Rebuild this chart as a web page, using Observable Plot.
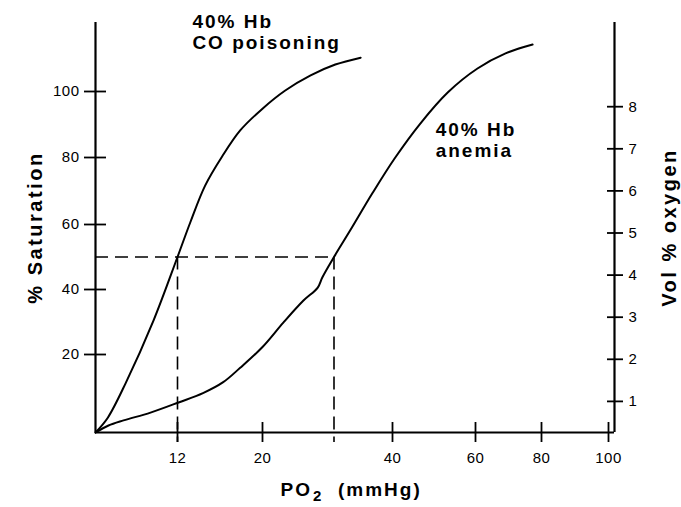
<!DOCTYPE html>
<html><head><meta charset="utf-8">
<script src="https://cdn.jsdelivr.net/npm/d3@7"></script>
<script src="https://cdn.jsdelivr.net/npm/@observablehq/plot@0.6"></script>
<style>
html,body{margin:0;padding:0;background:#fff;}
#chart{position:relative;width:681px;height:507px;}
#chart svg{position:absolute;left:0;top:0;letter-spacing:0.5px;}
#chart g[font-weight="bold"] text{letter-spacing:2px;}
#chart g[font-size="20"] text{letter-spacing:2.5px;}
</style></head><body><div id="chart"></div>
<script>
// ---- data ----
const po2Ticks = [12, 20, 40, 60, 80, 100];          // mmHg
const saturationTicks = [20, 40, 60, 80, 100];       // % saturation
const volTicks = [1, 2, 3, 4, 5, 6, 7, 8];           // vol % oxygen

const coPO2 = [0, 1.8, 4.4, 8.5, 12, 13.2, 14.6, 16.2, 17.9, 20, 23.5, 27.4, 31.2, 35.1];
const coSat = [0, 3.8, 12.6, 30.5, 50, 60.6, 71.6, 80.3, 88.2, 94.8, 100.3, 104.9, 108.2, 110.3];

const anemiaPO2 = [0, 1.9, 4.1, 8.05, 12.1, 14.4, 16.3, 17.9, 20, 23.2, 26.3, 28.5, 29.2, 31, 33.5, 36.9, 40.5, 46.7, 53.3, 60.6, 69.1, 77.3];
const anemiaSat = [0, 1.8, 3.1, 5.1, 7.7, 10.1, 12.9, 16.6, 22.3, 29.8, 36.6, 40.6, 43.7, 50, 58.2, 69.3, 79.7, 90.3, 99.7, 107, 111.6, 114.3];

const p50Sat = 50;
const coP50 = 12;
const anemiaP50 = 31;

const coLabel = "40% Hb\nCO poisoning";
const anemiaLabel = "40% Hb\nanemia";
const yTitle = "% Saturation";
const y2Title = "Vol % oxygen";

// ---- hand-drawn (non-uniform) axis of the original ----
const xDomain = [0, 12, 20, 40, 60, 80, 100, 102];
const xRange  = [95, 177, 262, 392, 475, 541, 608, 614];
const yDomain = [0, 20, 40, 60, 80, 100, 121];
const yRange  = [432, 354, 289, 224, 157, 91, 22];
const volDomain = [0, 10];
const volRange = [443, 22];

const co = coPO2.map((p, i) => ({po2: p, sat: coSat[i]}));
const anemia = anemiaPO2.map((p, i) => ({po2: p, sat: anemiaSat[i]}));
const xMax = xDomain[xDomain.length - 1];
const yMax = yDomain[yDomain.length - 1];

const font = "'Liberation Sans', Arial, Helvetica, sans-serif";
const common = {
  width: 681, height: 507,
  marginLeft: 95, marginRight: 67, marginTop: 22, marginBottom: 75
};

const main = Plot.plot({
  ...common,
  style: {fontFamily: font, fontSize: "15px", color: "black", background: "white"},
  x: {type: "linear", domain: xDomain, range: xRange},
  y: {type: "linear", domain: yDomain, range: yRange},
  marks: [
    Plot.ruleX([0], {y1: 0, y2: yMax, strokeWidth: 2.2}),
    Plot.ruleX([xMax], {y1: 0, y2: yMax, strokeWidth: 2.2}),
    Plot.ruleY([0], {x1: 0, x2: xMax, strokeWidth: 2.2}),
    Plot.axisX({ticks: po2Ticks, anchor: "bottom", tickSize: 20, dy: -10, tickPadding: 10, label: null, strokeWidth: 1.8, fontSize: 15}),
    Plot.axisY({ticks: saturationTicks, anchor: "left", tickSize: 22, dx: 11, tickPadding: 5, label: null, strokeWidth: 1.8, fontSize: 15}),
    Plot.ruleY([p50Sat], {x1: 0, x2: anemiaP50, strokeDasharray: "13,7", strokeWidth: 1.6}),
    Plot.ruleX([coP50, anemiaP50], {y1: p50Sat, y2: 0, insetBottom: -10, strokeDasharray: "13,7", strokeWidth: 1.6}),
    Plot.line(co, {x: "po2", y: "sat", curve: "catmull-rom", strokeWidth: 2}),
    Plot.line(anemia, {x: "po2", y: "sat", curve: "catmull-rom", strokeWidth: 2}),
    Plot.text([coLabel], {x: 13.4, y: 123.7, text: d => d, textAnchor: "start", lineAnchor: "top", lineHeight: 1.1, fontSize: 19, fontWeight: "bold"}),
    Plot.text([anemiaLabel], {x: 50.4, y: 90.9, text: d => d, textAnchor: "start", lineAnchor: "top", lineHeight: 1.1, fontSize: 19, fontWeight: "bold"}),
    Plot.text([yTitle], {frameAnchor: "left", dx: -60, rotate: -90, text: d => d, textAnchor: "middle", lineAnchor: "middle", fontSize: 20, fontWeight: "bold"}),
    Plot.text(["PO"], {frameAnchor: "bottom", dx: -43, dy: 63, text: d => d, textAnchor: "end", lineAnchor: "bottom", fontSize: 19, fontWeight: "bold"}),
    Plot.text(["2"], {frameAnchor: "bottom", dx: -42, dy: 68, text: d => d, textAnchor: "start", lineAnchor: "bottom", fontSize: 15, fontWeight: "bold"}),
    Plot.text(["(mmHg)"], {frameAnchor: "bottom", dx: -17, dy: 63, text: d => d, textAnchor: "start", lineAnchor: "bottom", fontSize: 19, fontWeight: "bold"})
  ]
});

const overlay = Plot.plot({
  ...common,
  style: {fontFamily: font, fontSize: "15px", color: "black", background: "transparent"},
  y: {type: "linear", domain: volDomain, range: volRange},
  marks: [
    Plot.axisY({ticks: volTicks, anchor: "right", tickSize: 16, dx: -8, tickPadding: 6, label: null, strokeWidth: 1.8, fontSize: 15}),
    Plot.text([y2Title], {frameAnchor: "right", dx: 55, rotate: -90, text: d => d, textAnchor: "middle", lineAnchor: "middle", fontSize: 20, fontWeight: "bold"})
  ]
});

const el = document.getElementById("chart");
el.appendChild(main);
el.appendChild(overlay);
</script></body></html>
